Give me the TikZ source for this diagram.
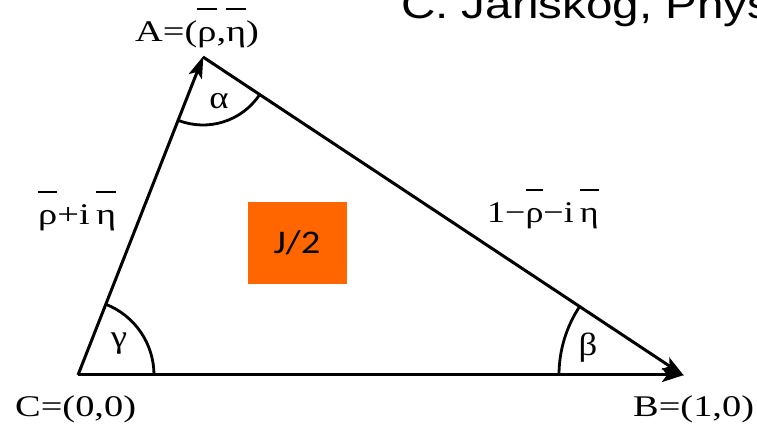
\documentclass[tikz,border=0pt]{standalone}
\usepackage{fontspec}
\setmainfont{Liberation Serif}
\newfontfamily\titlefont{Liberation Sans}
\newfontfamily\boxfont{Carlito}
\usetikzlibrary{arrows.meta,angles,quotes}
\newcommand\obar[1]{\setbox0\hbox{#1}\rlap{\rule[1.05em]{\wd0}{0.075em}}\box0}
\newcommand\wide[1]{\scalebox{1.28}[1]{#1}}
\tikzset{
  side/.style={line width=3pt,-{Stealth[length=22pt,width=14pt,inset=5pt]}},
  angarc/.style={draw,line width=2.8pt},
  lbl/.style={inner sep=0pt,anchor=base west,font=\fontsize{30}{34}\selectfont},
  greek/.style={inner sep=0pt,font=\fontsize{32}{34}\selectfont}
}
\begin{document}
\begin{tikzpicture}[x=1pt,y=1pt]
\useasboundingbox (0,0) rectangle (757,428);
\clip (0,0) rectangle (757,428);
\fill[white] (0,0) rectangle (757,428);
\coordinate (C) at (78,53);
\coordinate (A) at (203,371);
\coordinate (B) at (683,53);
% box
\node[fill={rgb,255:red,255;green,102;blue,0},minimum width=99pt,minimum height=82pt,inner sep=0pt,font=\boxfont\fontsize{33}{36}\selectfont] (J) at (297,185) {\scalebox{1.17}[1]{J/2}};
% angles
\pic[angarc,angle radius=76pt] {angle=B--C--A};
\pic[angarc,angle radius=68pt] {angle=C--A--B};
\pic[angarc,angle radius=124pt] {angle=A--B--C};
% sides
\draw[side,shorten >=-1pt] (C) -- (A);
\draw[side,shorten >=-1pt] (A) -- (B);
\draw[side,shorten >=-1pt] (C) -- (B);
% greek
\node[greek] (ga) at (219,327) {\scalebox{1.15}[1]{α}};
\node[greek] (gg) at (119,84) {\scalebox{1.15}[1]{γ}};
\node[greek] (gb) at (588,80) {\scalebox{1.15}[1]{β}};
% labels
\node[lbl] (la) at (135,386) {\wide{A=(\obar{ρ},\obar{η})}};
\node[lbl] (lc) at (15,12) {\wide{C=(0,0)}};
\node[lbl] (lb) at (633,12) {\wide{B=(1,0)}};
\node[lbl] (l1) at (38,203) {\wide{\obar{ρ}+i\,\obar{η}}};
\node[lbl] (l2) at (487,205) {\scalebox{1.2}[1]{1−\obar{ρ}−i\,\obar{η}}};
% title
\node[inner sep=0pt,anchor=base west,font=\titlefont\fontsize{40}{44}\selectfont] (t) at (401,409) {\scalebox{1.19}[1]{C. Jarlskog, Phys. Rev.}};
\end{tikzpicture}
\end{document}
